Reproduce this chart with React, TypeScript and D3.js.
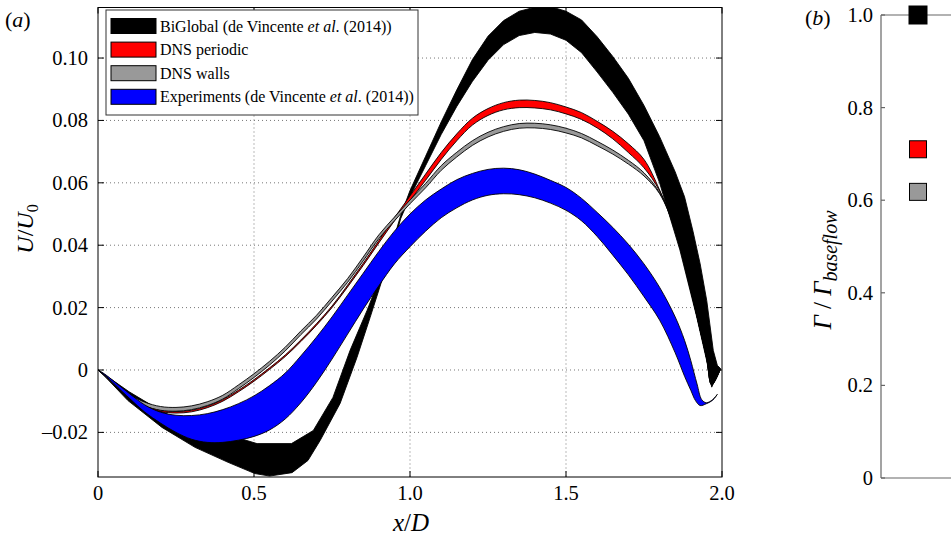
import React from 'react';
import * as d3 from 'd3';

// ---------- tick definitions ----------
const xTicks = [0, 0.5, 1.0, 1.5, 2.0];
const xTickLabels = ['0', '0.5', '1.0', '1.5', '2.0'];
const yTicks = [-0.02, 0, 0.02, 0.04, 0.06, 0.08, 0.1];
const yTickLabels = ['–0.02', '0', '0.02', '0.04', '0.06', '0.08', '0.10'];
const bTicks = [0, 0.2, 0.4, 0.6, 0.8, 1.0];
const bTickLabels = ['0', '0.2', '0.4', '0.6', '0.8', '1.0'];

// ---------- series names & colours ----------
const seriesNames = ['BiGlobal', 'DNS periodic', 'DNS walls', 'Experiments'];
const seriesColors = ['#000000', '#ff0000', '#999999', '#0000ff'];

// ---------- BiGlobal band ----------
const bigHiX = [0, 0.1, 0.2, 0.3, 0.4, 0.45, 0.51, 0.62, 0.69, 0.753, 0.808, 0.862, 0.904, 0.93, 0.97, 1.0, 1.05, 1.1, 1.15, 1.2, 1.25, 1.3, 1.35, 1.4, 1.45, 1.5, 1.55, 1.6, 1.65, 1.7, 1.75, 1.8, 1.85, 1.88, 1.907, 1.93, 1.951, 1.972, 1.985, 1.995];
const bigHiY = [0, -0.007, -0.013, -0.018, -0.021, -0.0218, -0.0236, -0.0236, -0.0194, -0.0088, 0.0063, 0.019, 0.0297, 0.036, 0.0495, 0.0575, 0.0685, 0.0795, 0.0898, 0.0995, 0.107, 0.112, 0.115, 0.1163, 0.1165, 0.115, 0.1122, 0.1068, 0.1005, 0.0935, 0.0848, 0.0748, 0.0635, 0.0555, 0.0445, 0.034, 0.0223, 0.0063, 0.0015, 0.0005];
const bigLoX = [0, 0.013, 0.096, 0.205, 0.311, 0.417, 0.503, 0.55, 0.622, 0.673, 0.712, 0.776, 0.83, 0.872, 0.91, 0.93, 0.97, 1.0, 1.05, 1.1, 1.15, 1.2, 1.25, 1.3, 1.35, 1.4, 1.45, 1.5, 1.55, 1.6, 1.65, 1.7, 1.75, 1.8, 1.865, 1.919, 1.951, 1.967, 1.995];
const bigLoY = [0, -0.0011, -0.0098, -0.0184, -0.0248, -0.0296, -0.0332, -0.034, -0.0329, -0.029, -0.0226, -0.0107, 0.004, 0.0168, 0.0287, 0.034, 0.0485, 0.0555, 0.0655, 0.0755, 0.0845, 0.0925, 0.0993, 0.1043, 0.1072, 0.1082, 0.1077, 0.1057, 0.1017, 0.0955, 0.089, 0.082, 0.0735, 0.06, 0.0385, 0.017, 0.003, -0.0055, 0.0005];

// ---------- DNS periodic band ----------
const dnsX = [0, 0.05, 0.1, 0.15, 0.2, 0.25, 0.3, 0.35, 0.4, 0.45, 0.5, 0.55, 0.6, 0.65, 0.7, 0.75, 0.8, 0.85, 0.9, 0.95, 1.0, 1.05, 1.1, 1.15, 1.2, 1.25, 1.3, 1.35, 1.4, 1.45, 1.5, 1.55, 1.6, 1.65, 1.7, 1.75, 1.8, 1.85, 1.9, 1.93, 1.951, 1.967, 1.995];
const perHiY = [0, -0.004, -0.0082, -0.0112, -0.0128, -0.0133, -0.0129, -0.0116, -0.0095, -0.0065, -0.0031, 0.0007, 0.0048, 0.0096, 0.0148, 0.0205, 0.0272, 0.0342, 0.0415, 0.0488, 0.0558, 0.0628, 0.0697, 0.0757, 0.0807, 0.0838, 0.0857, 0.0865, 0.0864, 0.0857, 0.0843, 0.0825, 0.0797, 0.0765, 0.0725, 0.0675, 0.0577, 0.045, 0.0258, 0.013, 0.0038, -0.0046, 0.0004];
const perLoY = [0, -0.0043, -0.0087, -0.0117, -0.0133, -0.0138, -0.0134, -0.0121, -0.01, -0.007, -0.0036, 0.0002, 0.0043, 0.0091, 0.0143, 0.02, 0.0266, 0.0335, 0.0407, 0.0478, 0.0543, 0.0608, 0.0675, 0.0735, 0.0785, 0.0816, 0.0834, 0.0841, 0.084, 0.0834, 0.0821, 0.0803, 0.0776, 0.0741, 0.0697, 0.0648, 0.0574, 0.045, 0.0258, 0.013, 0.0038, -0.0046, 0.0004];

// ---------- DNS walls band ----------
const wallHiY = [0, -0.004, -0.0078, -0.0103, -0.0117, -0.012, -0.0115, -0.0102, -0.0081, -0.0048, -0.0012, 0.0028, 0.0073, 0.0125, 0.0175, 0.0233, 0.0293, 0.0362, 0.0433, 0.049, 0.0545, 0.0598, 0.0655, 0.0698, 0.0735, 0.0762, 0.078, 0.079, 0.0791, 0.0786, 0.0775, 0.0758, 0.0733, 0.0705, 0.0672, 0.0632, 0.0568, 0.0448, 0.0255, 0.0128, 0.0036, -0.0048, 0.0003];
const wallLoY = [0, -0.0045, -0.0088, -0.0115, -0.0129, -0.0132, -0.0127, -0.0114, -0.0093, -0.006, -0.0024, 0.0016, 0.0061, 0.0113, 0.0163, 0.0221, 0.0281, 0.035, 0.0421, 0.0478, 0.0533, 0.0584, 0.064, 0.0683, 0.072, 0.0747, 0.0765, 0.0775, 0.0776, 0.0771, 0.076, 0.0744, 0.0719, 0.0692, 0.066, 0.0622, 0.0565, 0.0448, 0.0255, 0.0128, 0.0036, -0.0048, 0.0003];

// ---------- Experiments band ----------
const expHiX = [0, 0.02, 0.1, 0.15, 0.2, 0.25, 0.3, 0.35, 0.4, 0.45, 0.5, 0.55, 0.6, 0.65, 0.7, 0.75, 0.8, 0.85, 0.9, 0.95, 1.0, 1.05, 1.1, 1.15, 1.2, 1.25, 1.3, 1.35, 1.4, 1.45, 1.5, 1.55, 1.6, 1.65, 1.7, 1.75, 1.8, 1.85, 1.88, 1.9, 1.92, 1.935, 1.95, 1.97, 1.985];
const expHiY = [0, -0.0012, -0.0075, -0.0112, -0.0135, -0.0145, -0.0146, -0.014, -0.0127, -0.0108, -0.0083, -0.005, -0.001, 0.0045, 0.0105, 0.017, 0.024, 0.031, 0.038, 0.0445, 0.05, 0.0545, 0.058, 0.061, 0.063, 0.0643, 0.0647, 0.0642, 0.0628, 0.0608, 0.0585, 0.055, 0.0505, 0.0457, 0.0403, 0.034, 0.0265, 0.017, 0.0095, 0.003, -0.0045, -0.0095, -0.0105, -0.0095, -0.0078];
const expLoX = [0, 0.02, 0.1, 0.15, 0.2, 0.25, 0.3, 0.35, 0.4, 0.45, 0.5, 0.55, 0.6, 0.65, 0.7, 0.75, 0.8, 0.85, 0.9, 0.95, 1.0, 1.05, 1.1, 1.15, 1.2, 1.25, 1.3, 1.35, 1.4, 1.45, 1.5, 1.55, 1.6, 1.65, 1.7, 1.75, 1.8, 1.85, 1.88, 1.9, 1.915, 1.93, 1.95, 1.97, 1.985];
const expLoY = [0, -0.0015, -0.009, -0.0135, -0.017, -0.02, -0.0222, -0.0232, -0.0232, -0.0225, -0.0213, -0.0192, -0.0157, -0.0105, -0.004, 0.0035, 0.0115, 0.0195, 0.027, 0.034, 0.0395, 0.0445, 0.0488, 0.052, 0.0545, 0.056, 0.0565, 0.0562, 0.0552, 0.0535, 0.0512, 0.0478, 0.0428, 0.0368, 0.0305, 0.0235, 0.016, 0.0055, -0.002, -0.0065, -0.0098, -0.0114, -0.0108, -0.0097, -0.0078];

// ---------- panel (b) ----------
const gammaSeries = ['BiGlobal', 'DNS periodic', 'DNS walls'];
const gammaValues = [1.0, 0.71, 0.618];

const W = 951;
const H = 542;
const FONT = '"Liberation Serif", "DejaVu Serif", "Times New Roman", Times, serif';

const xA = d3.scaleLinear().domain([0, 2]).range([98, 722]);
const yA = d3.scaleLinear().domain([-0.0343, 0.1162]).range([477, 7.5]);
const xB = d3.scaleLinear().domain([0, 4]).range([881, 1029]);
const yB = d3.scaleLinear().domain([0, 1]).range([478, 15]);

function bandPath(hx: number[], hy: number[], lx: number[], ly: number[], curve: any) {
  const line = d3
    .line<[number, number]>()
    .x((d) => xA(d[0]))
    .y((d) => yA(d[1]))
    .curve(curve);
  const hi: [number, number][] = hx.map((x, i) => [x, hy[i]]);
  const lo: [number, number][] = lx.map((x, i) => [x, ly[i]] as [number, number]).reverse();
  return (line(hi) || '') + (line(lo) || '').replace(/^M/, 'L') + 'Z';
}

export default function App() {
  const smooth = d3.curveCatmullRom.alpha(0.5);
  const bands = [
    { d: bandPath(bigHiX, bigHiY, bigLoX, bigLoY, d3.curveLinear), c: seriesColors[0] },
    { d: bandPath(dnsX, perHiY, dnsX, perLoY, smooth), c: seriesColors[1] },
    { d: bandPath(dnsX, wallHiY, dnsX, wallLoY, smooth), c: seriesColors[2] },
    { d: bandPath(expHiX, expHiY, expLoX, expLoY, smooth), c: seriesColors[3] },
  ];
  const [x0, x1] = xA.range();
  const [yb, yt] = yA.range();
  const legendRows = [
    <>BiGlobal (de Vincente <tspan fontStyle="italic">et al</tspan>. (2014))</>,
    <>DNS periodic</>,
    <>DNS walls</>,
    <>Experiments (de Vincente <tspan fontStyle="italic">et al</tspan>. (2014))</>,
  ];
  const tickLen = 6;
  const bAxisColor = '#666';
  const txt = { fontFamily: FONT } as React.CSSProperties;

  return (
    <svg
      width={W}
      height={H}
      style={{ position: 'absolute', left: 0, top: 0, background: '#fff', fontFamily: FONT }}
    >
      <defs>
        <clipPath id="plotA">
          <rect x={x0} y={yt} width={x1 - x0} height={yb - yt} />
        </clipPath>
      </defs>
      <rect x={0} y={0} width={W} height={H} fill="#fff" />

      {/* ---------------- panel (a) ---------------- */}
      <g stroke="#777" strokeWidth={1} strokeDasharray="1,3">
        {xTicks.slice(1, -1).map((t) => (
          <line key={'gx' + t} x1={xA(t)} x2={xA(t)} y1={yt} y2={yb} />
        ))}
        {yTicks.map((t) => (
          <line key={'gy' + t} x1={x0} x2={x1} y1={yA(t)} y2={yA(t)} />
        ))}
      </g>

      <g clipPath="url(#plotA)">
        {bands.map((b, i) => (
          <path key={i} d={b.d} fill={b.c} stroke="#000" strokeWidth={0.9} strokeLinejoin="round" />
        ))}
      </g>

      <rect x={x0} y={yt} width={x1 - x0} height={yb - yt} fill="none" stroke="#000" strokeWidth={1} />
      <g stroke="#000" strokeWidth={1}>
        {xTicks.map((t) => (
          <g key={'tx' + t}>
            <line x1={xA(t)} x2={xA(t)} y1={yb} y2={yb - tickLen} />
            <line x1={xA(t)} x2={xA(t)} y1={yt} y2={yt + tickLen} />
          </g>
        ))}
        {yTicks.map((t) => (
          <g key={'ty' + t}>
            <line x1={x0} x2={x0 + tickLen} y1={yA(t)} y2={yA(t)} />
            <line x1={x1} x2={x1 - tickLen} y1={yA(t)} y2={yA(t)} />
          </g>
        ))}
      </g>
      <g fontSize={20.5} fill="#000" style={txt}>
        {xTicks.map((t, i) => (
          <text key={'lx' + t} x={xA(t)} y={500} textAnchor="middle" style={txt}>
            {xTickLabels[i]}
          </text>
        ))}
        {yTicks.map((t, i) => (
          <text key={'ly' + t} x={88} y={yA(t) + 7} textAnchor="end" style={txt}>
            {yTickLabels[i]}
          </text>
        ))}
      </g>

      <text x={411} y={531} textAnchor="middle" fontSize={25} style={txt}>
        <tspan fontStyle="italic">x</tspan>/<tspan fontStyle="italic">D</tspan>
      </text>
      <text transform="translate(33,229) rotate(-90)" textAnchor="middle" fontSize={24} style={txt}>
        <tspan fontStyle="italic">U</tspan>/<tspan fontStyle="italic">U</tspan>
        <tspan fontSize={16} dy={5}>0</tspan>
      </text>
      <text x={5} y={27} fontSize={22} style={txt}>
        (<tspan fontStyle="italic">a</tspan>)
      </text>

      <rect x={106} y={10} width={312} height={105} fill="#fff" stroke="#333" strokeWidth={1} />
      {seriesNames.map((n, i) => {
        const cy = 26 + i * 23.6;
        return (
          <g key={'lg' + n}>
            <rect x={111} y={cy - 7.5} width={45} height={15} fill={seriesColors[i]} stroke="#000" strokeWidth={1} />
            <text x={160} y={cy + 5.5} fontSize={16} style={txt}>
              {legendRows[i]}
            </text>
          </g>
        );
      })}

      {/* ---------------- panel (b) ---------------- */}
      <g stroke={bAxisColor} strokeWidth={1.2}>
        <line x1={xB(0)} x2={W} y1={yB(1)} y2={yB(1)} />
        <line x1={xB(0)} x2={W} y1={yB(0)} y2={yB(0)} />
        <line x1={xB(0)} x2={xB(0)} y1={yB(0)} y2={yB(1)} />
        {bTicks.map((t) => (
          <line key={'bt' + t} x1={xB(0)} x2={xB(0) + 4} y1={yB(t)} y2={yB(t)} />
        ))}
      </g>
      <g fontSize={20.5} fill="#000">
        {bTicks.map((t, i) => (
          <text key={'bl' + t} x={873} y={yB(t) + 7} textAnchor="end" style={txt}>
            {bTickLabels[i]}
          </text>
        ))}
      </g>
      {gammaSeries.map((s, i) => {
        const size = i === 0 ? 18 : 17;
        return (
          <rect
            key={'gm' + s}
            x={xB(1) - size / 2}
            y={yB(gammaValues[i]) - size / 2}
            width={size}
            height={size}
            fill={seriesColors[i]}
            stroke="#000"
            strokeWidth={1}
          />
        );
      })}
      <text transform="translate(831,270) rotate(-90)" textAnchor="middle" fontSize={25} style={txt}>
        <tspan fontStyle="italic">Γ</tspan> / <tspan fontStyle="italic">Γ</tspan>
        <tspan fontStyle="italic" fontSize={20} dy={6}>baseflow</tspan>
      </text>
      <text x={805} y={25} fontSize={22} style={txt}>
        (<tspan fontStyle="italic">b</tspan>)
      </text>
    </svg>
  );
}
